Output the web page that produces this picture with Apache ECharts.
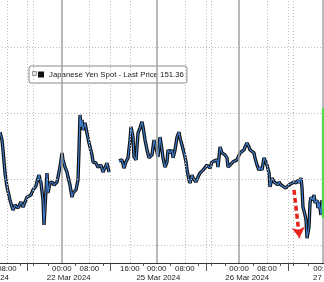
<!DOCTYPE html>
<html><head><meta charset="utf-8">
<script src="https://cdn.jsdelivr.net/npm/echarts@6/dist/echarts.min.js"></script>
<style>html,body{margin:0;padding:0;background:#fff}#c{width:324px;height:282px}</style>
</head><body><div id="c"></div>
<script>
const seriesName = 'Japanese Yen Spot - Last Price';
const lastPrice = '151.36';
// x = compressed session time position (hours on Bloomberg's gap-free axis)
const timePos = [-2.00,-1.42,-1.13,-0.54,0.04,0.91,1.78,2.37,3.24,4.11,4.69,5.86,7.02,7.61,8.48,9.06,9.35,9.93,10.52,10.81,11.10,11.68,11.97,12.55,13.14,13.72,14.59,14.88,15.46,16.05,16.34,16.92,17.50,17.79,18.37,18.96,19.25,20.12,20.70,20.99,21.29,21.58,21.87,22.16,22.74,23.32,23.91,24.78,25.07,25.94,26.52,27.40,27.98,28.56,29.14,29.73,
 31.2,
 32.64,33.51,34.09,34.67,35.26,35.84,36.13,36.71,37.00,37.59,38.17,38.75,39.33,39.62,40.21,40.79,41.37,42.24,42.82,43.41,43.99,44.57,45.15,45.44,46.03,46.61,46.90,47.48,48.06,48.36,48.94,49.52,50.10,50.39,50.97,51.56,52.14,52.43,53.01,53.30,53.89,54.18,55.05,55.63,56.21,57.09,57.67,58.25,59.12,59.71,60.29,61.16,61.45,62.04,62.62,62.91,63.49,64.07,64.36,64.95,65.82,66.40,66.98,67.86,68.44,69.02,69.31,69.89,70.48,70.77,71.35,71.93,72.22,72.81,73.39,73.68,74.26,74.84,75.13,75.72,76.30,76.59,77.17,77.75,78.04,78.92,79.21,79.79,80.66,81.25,82.12,82.70,83.57,84.16,84.74,85.03,85.61,85.90,86.19,86.78,87.07,87.36,87.94,88.23,88.52,89.11,89.40,89.69,90.27,90.56,90.85,91.43,91.72];
const price = [151.542,151.518,151.488,151.418,151.376,151.336,151.306,151.321,151.312,151.330,151.315,151.345,151.352,151.367,151.379,151.403,151.412,151.388,151.336,151.261,151.315,151.418,151.358,151.388,151.391,151.382,151.391,151.406,151.436,151.479,151.458,151.436,151.421,151.406,151.382,151.345,151.358,151.367,151.397,151.488,151.594,151.558,151.579,151.548,151.570,151.539,151.509,151.473,151.452,151.448,151.436,151.442,151.421,151.427,151.448,151.421,
 null,
 151.455,151.458,151.433,151.452,151.464,151.518,151.558,151.527,151.467,151.458,151.539,151.555,151.573,151.558,151.518,151.488,151.464,151.473,151.518,151.494,151.467,151.527,151.488,151.464,151.436,151.452,151.488,151.479,151.488,151.464,151.488,151.527,151.542,151.524,151.503,151.479,151.452,151.427,151.397,151.388,151.412,151.403,151.391,151.406,151.418,151.427,151.433,151.442,151.433,151.452,151.448,151.458,151.436,151.497,151.479,151.482,151.473,151.464,151.436,151.442,151.452,151.448,151.458,151.479,151.479,151.488,151.497,151.509,151.497,151.488,151.494,151.479,151.464,151.442,151.427,151.436,151.427,151.464,151.458,151.442,151.418,151.376,151.403,151.391,151.397,151.382,151.391,151.382,151.376,151.373,151.382,151.388,151.391,151.388,151.397,151.388,151.403,151.373,151.315,151.291,151.276,151.221,151.255,151.327,151.345,151.336,151.352,151.327,151.336,151.312,151.330,151.291,151.336];
const spikeTime = [92.0, 92.0];
const spikePrice = [151.282, 151.615];
const arrowTime = [83.57, 85.17];
const arrowPrice = [151.367, 151.221];
const priceGrid = [151.2, 151.4, 151.6, 151.8];
const midnightPos = [16, 43.6, 67.6, 92];
const dottedPos = [0, 5.9, 7.6, 24, 30, 35.8, 51.8, 58, 59.5, 75.7, 81.8, 83.3];
const timeTickPos = [0, 16, 24, 35.8, 43.6, 51.8, 67.6, 75.7, 92];
const timeTickLabels = ['08:00','00:00','08:00','16:00','00:00','08:00','00:00','08:00','00:00'];
const minorTickPos = [4, 7.6, 12, 20, 28, 39.6, 47.6, 55.7, 59.5, 63.6, 71.6, 79.7, 83.3, 87.7];
const sessionBreakPos = [5.9, 30, 58, 81.8];
const dateLabelPos = [-5.78, 18.0, 44.1, 69.95, 95.5];
const dateLabels = ['21 Mar 2024','22 Mar 2024','25 Mar 2024','26 Mar 2024','27 Mar 2024'];

const lineData = timePos.map((t, i) => [t, price[i]]);
const font = 'Liberation Sans, Arial, sans-serif';
function pick(posArr, labArr, v) {
  for (let i = 0; i < posArr.length; i++) if (Math.abs(posArr[i] - v) < 1e-6) return labArr[i];
  return '';
}
const xRange = { min: -11.9, max: 102.2 };
const chart = echarts.init(document.getElementById('c'), null, { renderer: 'canvas' });
chart.setOption({
  animation: false,
  backgroundColor: '#fff',
  grid: { left: -34, right: -34, top: 0, bottom: 19, containLabel: false, outerBoundsMode: 'none' },
  legend: {
    data: [seriesName], left: 29, top: 66, selectedMode: false,
    icon: 'rect', itemWidth: 6, itemHeight: 6,
    padding: [4, 3, 4, 9],
    backgroundColor: '#fff', borderColor: '#8a8a8a', borderWidth: 1, borderRadius: 2,
    formatter: n => n + ' ' + lastPrice,
    textStyle: { fontFamily: font, fontSize: 7.8, lineHeight: 9, color: '#1a1a1a' }
  },
  graphic: [{ type: 'rect', shape: { x: 32.5, y: 71.5, width: 4, height: 4 }, style: { fill: '#e4e4e4', stroke: '#9a9a9a', lineWidth: 1 }, z: 100 }],
  xAxis: [{
    type: 'value', position: 'bottom', min: xRange.min, max: xRange.max,
    axisLine: { show: true, lineStyle: { color: '#333', width: 1 } },
    axisTick: { show: true, customValues: minorTickPos, length: 3, lineStyle: { color: '#555' } },
    axisLabel: { customValues: timeTickPos, margin: 1, fontFamily: font, fontSize: 7.8, lineHeight: 9, color: '#1a1a1a',
      formatter: v => pick(timeTickPos, timeTickLabels, v) },
    splitLine: { show: false }
  }, {
    type: 'value', position: 'bottom', min: xRange.min, max: xRange.max,
    axisLine: { show: false },
    axisTick: { show: true, customValues: sessionBreakPos, length: 8, lineStyle: { color: '#555' } },
    axisLabel: { customValues: dateLabelPos, margin: 10, fontFamily: font, fontSize: 7.8, lineHeight: 9, color: '#1a1a1a',
      formatter: v => pick(dateLabelPos, dateLabels, v) },
    splitLine: { show: false }
  }],
  yAxis: { type: 'value', min: 151.1455, max: 151.9424, show: false },
  series: [
    { name: 'hgrid', type: 'line', data: [], z: 1, silent: true,
      markLine: { silent: true, symbol: ['none', 'none'], label: { show: false },
        lineStyle: { color: '#bdbdbd', type: [1, 2], width: 1 },
        data: priceGrid.map(v => ({ yAxis: v })) } },
    { name: 'vdot', type: 'line', data: [], z: 1, silent: true,
      markLine: { silent: true, symbol: ['none', 'none'], label: { show: false },
        lineStyle: { color: '#bdbdbd', type: [1, 2], width: 1 },
        data: dottedPos.map(v => ({ xAxis: v })) } },
    { name: 'vsolid', type: 'line', data: [], z: 1, silent: true,
      markLine: { silent: true, symbol: ['none', 'none'], label: { show: false },
        lineStyle: { color: '#a2a2a2', type: 'solid', width: 1.5 },
        data: midnightPos.map(v => ({ xAxis: v })) } },
    { name: seriesName, type: 'line', data: lineData, showSymbol: false, symbol: 'none', z: 3,
      connectNulls: false, itemStyle: { color: '#111' },
      lineStyle: { color: '#141414', width: 3.4 } },
    { name: 'blue', type: 'line', data: lineData, showSymbol: false, symbol: 'none', z: 4,
      connectNulls: false, itemStyle: { color: '#3f7dcc' },
      lineStyle: { color: '#3f7fd0', width: 1.1 } },
    { name: 'spike', type: 'line', data: spikeTime.map((t, i) => [t, spikePrice[i]]), showSymbol: false, symbol: 'none', z: 5,
      lineStyle: { color: '#55d84a', width: 2.2 } },
    { name: 'arrow', type: 'line', data: [], z: 6, silent: true,
      markLine: { silent: true, symbol: ['none', 'arrow'], symbolSize: [10, 11], label: { show: false },
        lineStyle: { color: '#e5231b', type: [5, 3], width: 3.5 },
        data: [[{ coord: [arrowTime[0], arrowPrice[0]] }, { coord: [arrowTime[1], arrowPrice[1]] }]] } }
  ]
});
</script></body></html>
